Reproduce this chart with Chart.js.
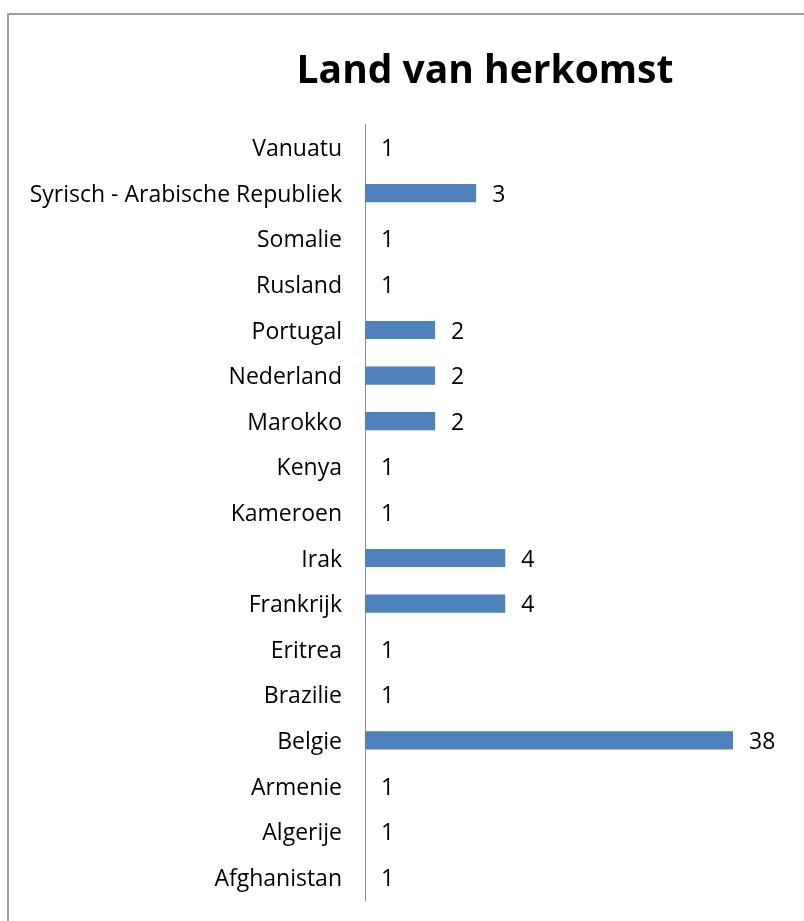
<!DOCTYPE html>
<html>
<head>
<meta charset="utf-8">
<script src="https://cdn.jsdelivr.net/npm/chart.js@4"></script>
<style>
  html, body { margin: 0; padding: 0; background: #fff; overflow: hidden; }
  #kader {
    position: absolute; left: 7px; top: 13px;
    width: 952px; height: 956px;
    border: 2px solid #a0a0a0;
  }
  #grafiek { display: block; }
</style>
</head>
<body>
<div id="kader"><canvas id="grafiek" width="952" height="956"></canvas></div>
<script>
const landen = ["Vanuatu", "Syrisch - Arabische Republiek", "Somalie", "Rusland", "Portugal",
  "Nederland", "Marokko", "Kenya", "Kameroen", "Irak", "Frankrijk", "Eritrea", "Brazilie",
  "Belgie", "Armenie", "Algerije", "Afghanistan"];
const aantallen = [1, 3, 1, 1, 2, 2, 2, 1, 1, 4, 4, 1, 1, 38, 1, 1, 1];
const titel = "Land van herkomst";

const lettertype = "'Open Sans', Lato, sans-serif";

// waarden naast de balken
const waardeLabels = {
  id: "waardeLabels",
  afterDatasetsDraw(chart) {
    const ctx = chart.ctx;
    const meta = chart.getDatasetMeta(0);
    ctx.save();
    ctx.font = "23px " + lettertype;
    ctx.fillStyle = "#000";
    ctx.textAlign = "left";
    ctx.textBaseline = "middle";
    meta.data.forEach((balk, i) => {
      ctx.fillText(aantallen[i], balk.x + 16, balk.y + 2);
    });
    ctx.restore();
  }
};

const grafiek = new Chart(document.querySelector("#grafiek"), {
  type: "bar",
  data: {
    labels: landen,
    datasets: [{
      label: titel,
      data: aantallen,
      backgroundColor: "#4F81BD",
      borderWidth: 0,
      categoryPercentage: 1,
      barPercentage: 0.4
    }]
  },
  options: {
    indexAxis: "y",
    responsive: false,
    animation: false,
    layout: { padding: { left: 0, right: 0, top: 0, bottom: 71 } },
    plugins: {
      legend: { display: false },
      tooltip: { enabled: false },
      title: {
        display: true,
        text: titel,
        color: "#000",
        font: { family: lettertype, size: 39, weight: "bold", lineHeight: 1.2 },
        padding: { top: 33, bottom: 30 }
      }
    },
    scales: {
      x: {
        type: "logarithmic",
        min: 1,
        max: 362,
        display: false
      },
      y: {
        afterFit: (schaal) => { schaal.width = 356; },
        grid: { display: false },
        border: { display: true, color: "#8c8c8c", width: 1 },
        ticks: {
          color: "#000",
          padding: 15,
          labelOffset: 2,
          font: { family: lettertype, size: 23 }
        }
      }
    }
  },
  plugins: [waardeLabels]
});
</script>
</body>
</html>
